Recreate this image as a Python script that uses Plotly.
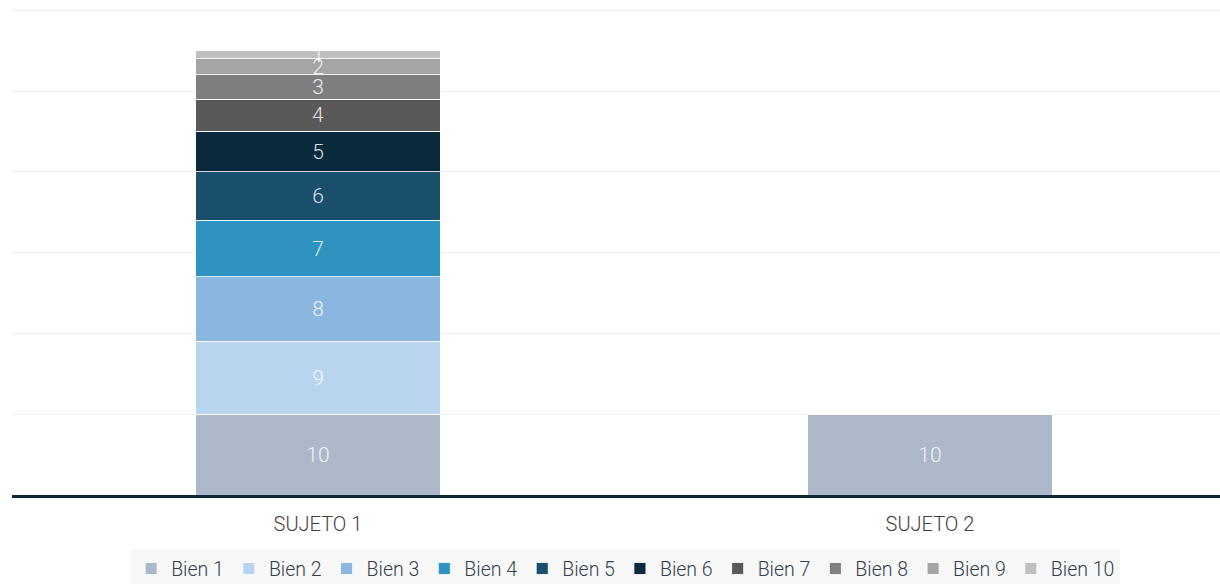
import plotly.graph_objects as go

categories = ["SUJETO 1", "SUJETO 2"]
series_names = ["Bien 1", "Bien 2", "Bien 3", "Bien 4", "Bien 5",
                "Bien 6", "Bien 7", "Bien 8", "Bien 9", "Bien 10"]
bien_1 = [10, 10]
bien_2 = [9, 0]
bien_3 = [8, 0]
bien_4 = [7, 0]
bien_5 = [6, 0]
bien_6 = [5, 0]
bien_7 = [4, 0]
bien_8 = [3, 0]
bien_9 = [2, 0]
bien_10 = [1, 0]
series_values = [bien_1, bien_2, bien_3, bien_4, bien_5,
                 bien_6, bien_7, bien_8, bien_9, bien_10]
colors = ["#ADB9CA", "#B8D4EE", "#8AB6E0", "#2E93C0", "#1A4F6B",
          "#0A2A3D", "#595959", "#7F7F7F", "#A5A5A5", "#BFBFBF"]
y_ticks = [0, 10, 20, 30, 40, 50, 60]

FONT = "Roboto, DejaVu Sans Condensed, sans-serif"

fig = go.Figure()
for name, vals, col in zip(series_names, series_values, colors):
    fig.add_trace(go.Bar(
        x=categories, y=vals, name=name,
        marker=dict(color=col, line=dict(color="rgba(255,255,255,0.8)", width=1)),
        width=0.4,
        text=[str(v) if v else "" for v in vals],
        textposition="inside", insidetextanchor="middle",
        constraintext="none", textangle=0,
        textfont=dict(family=FONT, size=21, weight=300, color="rgba(255,255,255,0.85)"),
        hoverinfo="x+y+name",
    ))

fig.update_layout(
    barmode="stack",
    width=1220, height=584,
    margin=dict(l=12, r=0, t=9, b=89, autoexpand=False),
    paper_bgcolor="white", plot_bgcolor="white",
    font=dict(family=FONT, size=20, color="#404040", weight=300),
    xaxis=dict(range=[-0.5, 1.474], showgrid=False, showline=True,
               linecolor="#0C2638", linewidth=3, ticks="outside", ticklen=9,
               tickcolor="rgba(0,0,0,0)",
               tickfont=dict(family=FONT, size=20, color="#404040", weight=300)),
    yaxis=dict(range=[0, 60.15], tickvals=y_ticks, showticklabels=False,
               showgrid=True, gridcolor="#EFEFEF", gridwidth=1,
               zeroline=False, showline=False),
    legend=dict(orientation="h", x=0.508, xanchor="center",
                yref="container", y=0.026, yanchor="middle",
                traceorder="normal", bgcolor="#F8F8F8",
                font=dict(family=FONT, size=19.5, color="#333F4F", weight=300)),
    showlegend=True,
)

fig.write_html("out.html")
